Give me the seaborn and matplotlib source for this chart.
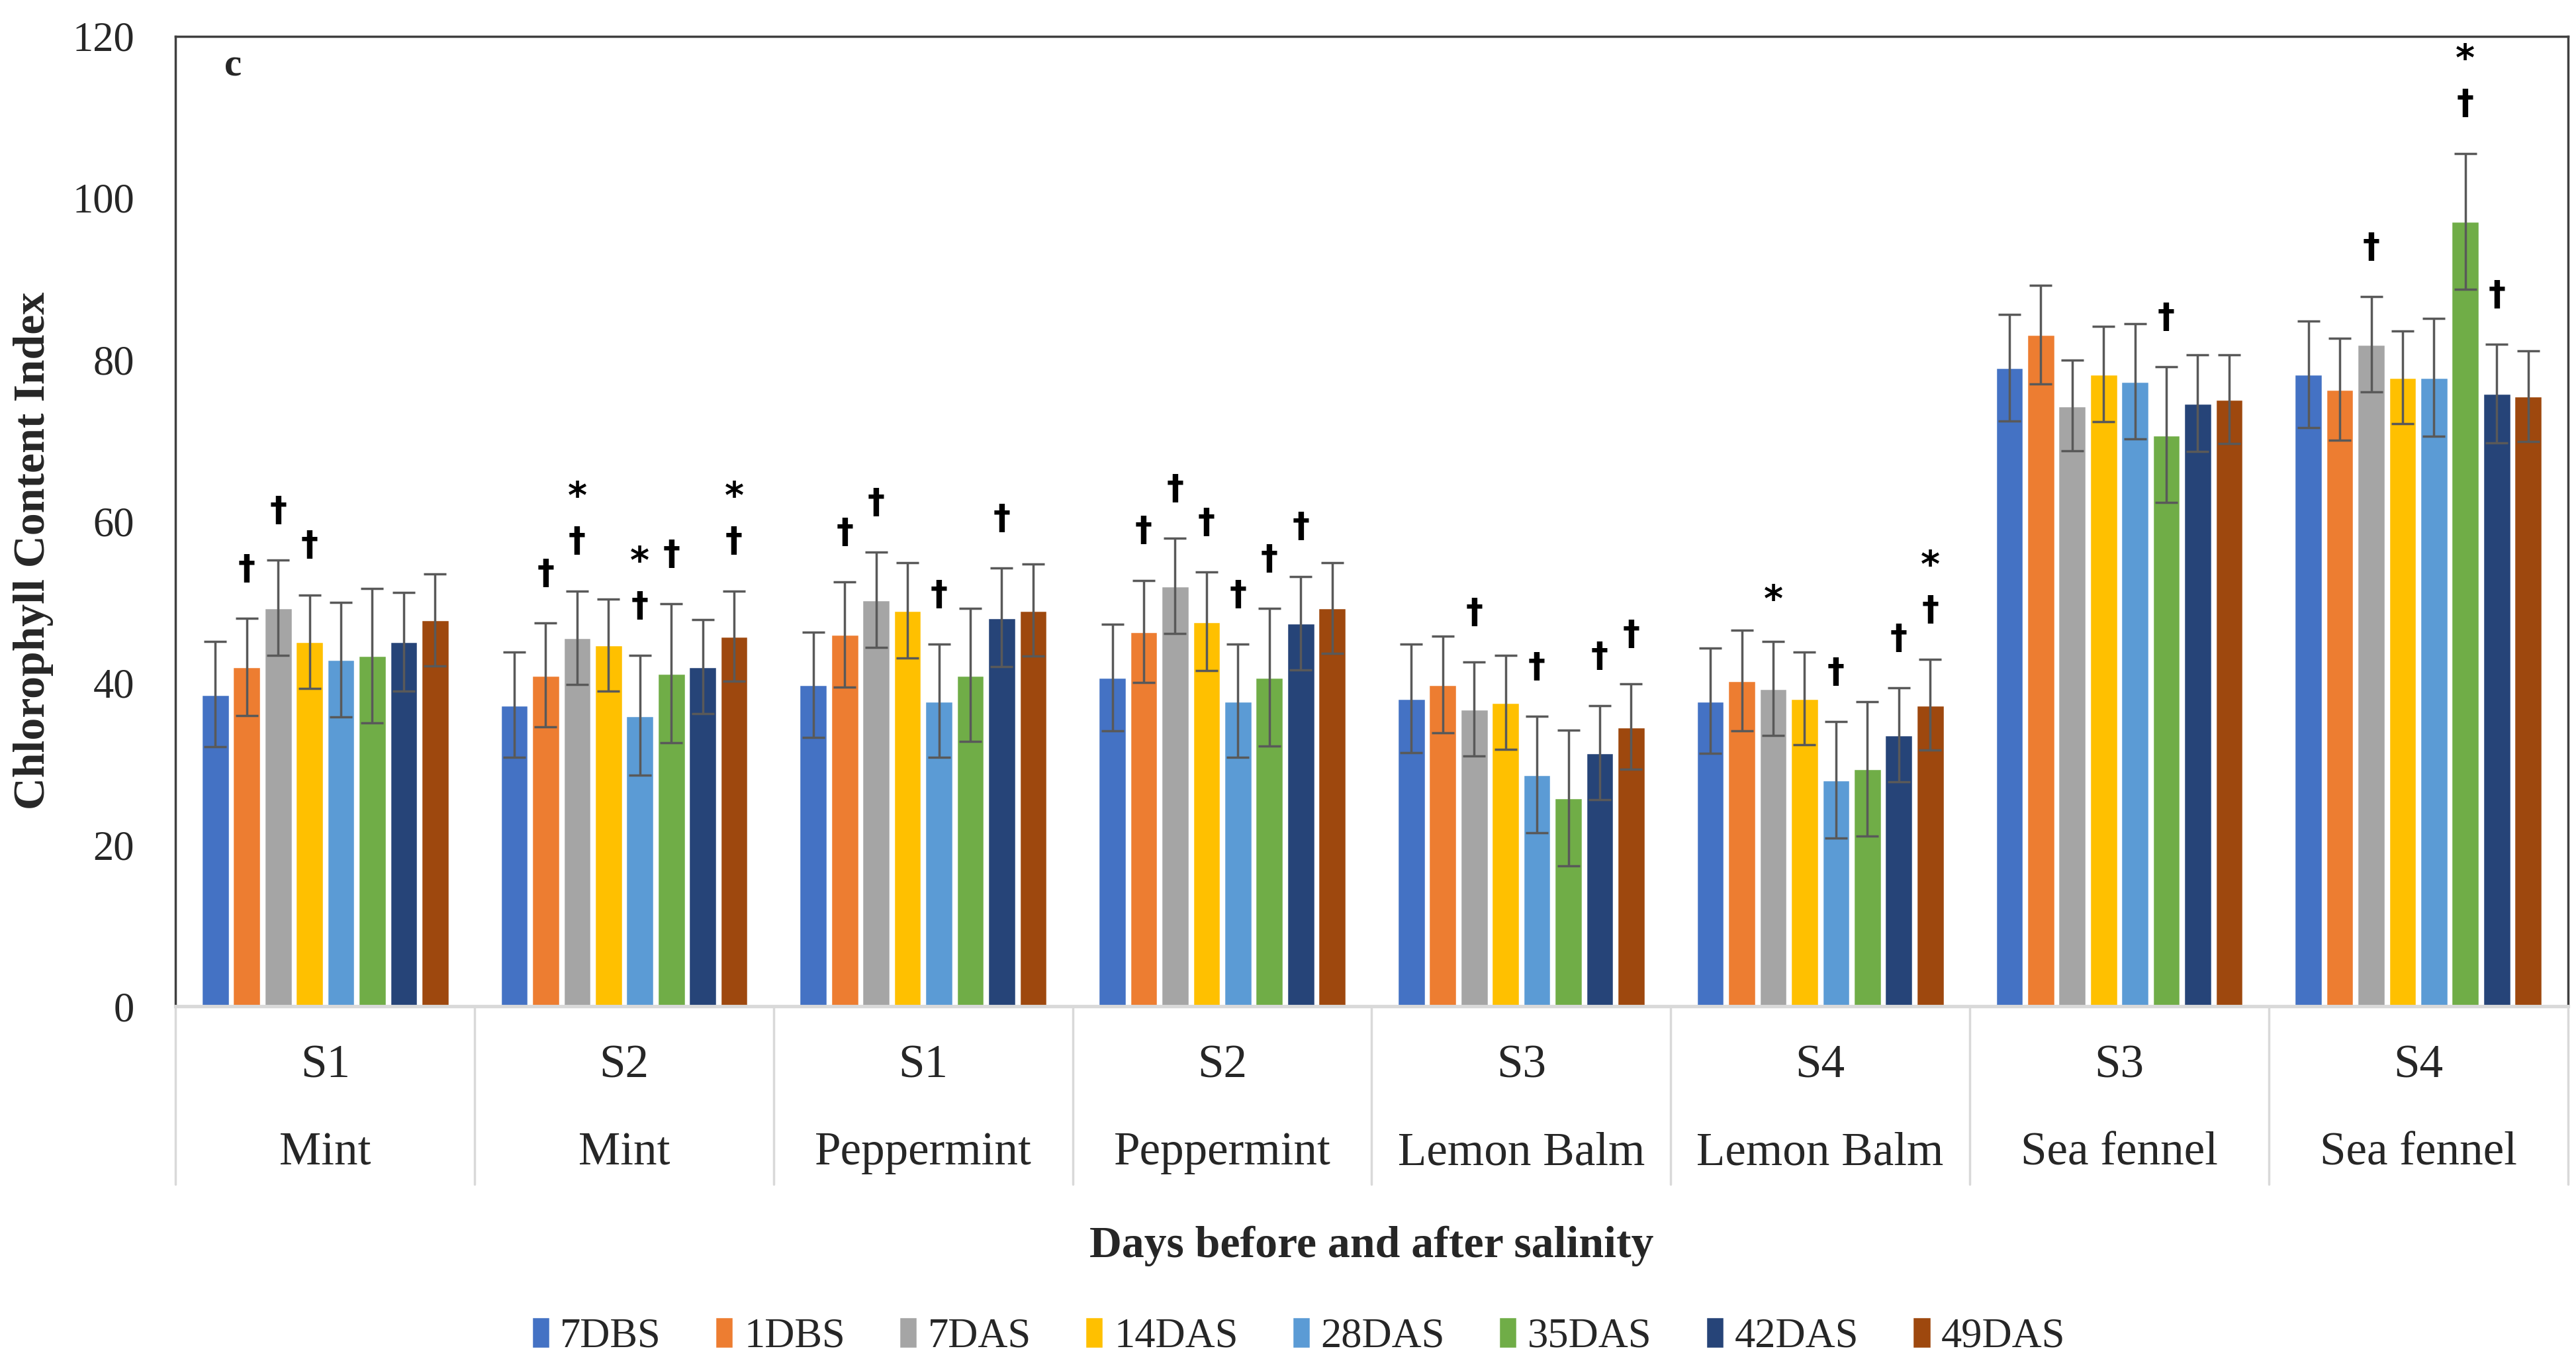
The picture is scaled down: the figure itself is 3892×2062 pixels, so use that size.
import pandas as pd
import matplotlib
matplotlib.use("Agg")
import matplotlib.pyplot as plt
from matplotlib.container import BarContainer
import seaborn as sns

# --- data ---
series = ["7DBS", "1DBS", "7DAS", "14DAS", "28DAS", "35DAS", "42DAS", "49DAS"]
colors = ["#4472C4", "#ED7D31", "#A5A5A5", "#FFC000", "#5B9BD5", "#70AD47", "#264478", "#9E480E"]

salinity = ["S1", "S2", "S1", "S2", "S3", "S4", "S3", "S4"]
species = ["Mint", "Mint", "Peppermint", "Peppermint", "Lemon Balm", "Lemon Balm", "Sea fennel", "Sea fennel"]

mean_mint_s1 = [38.6, 42.0, 49.3, 45.1, 42.9, 43.4, 45.1, 47.8]
mean_mint_s2 = [37.3, 41.0, 45.6, 44.7, 36.0, 41.2, 42.0, 45.8]
mean_pep_s1 = [39.8, 46.0, 50.3, 49.0, 37.8, 41.0, 48.1, 49.0]
mean_pep_s2 = [40.7, 46.4, 52.0, 47.6, 37.8, 40.7, 47.4, 49.3]
mean_lb_s3 = [38.1, 39.8, 36.8, 37.6, 28.7, 25.8, 31.4, 34.6]
mean_lb_s4 = [37.8, 40.3, 39.3, 38.1, 28.0, 29.4, 33.6, 37.3]
mean_sf_s3 = [79.0, 83.1, 74.3, 78.2, 77.3, 70.7, 74.6, 75.1]
mean_sf_s4 = [78.2, 76.3, 81.9, 77.8, 77.8, 97.1, 75.8, 75.5]

err_mint_s1 = [6.5, 6.0, 5.9, 5.8, 7.1, 8.3, 6.1, 5.7]
err_mint_s2 = [6.5, 6.4, 5.8, 5.7, 7.4, 8.6, 5.8, 5.6]
err_pep_s1 = [6.5, 6.5, 5.9, 5.9, 7.0, 8.2, 6.1, 5.7]
err_pep_s2 = [6.6, 6.3, 5.9, 6.1, 7.0, 8.5, 5.8, 5.6]
err_lb_s3 = [6.7, 6.0, 5.8, 5.8, 7.2, 8.4, 5.8, 5.3]
err_lb_s4 = [6.5, 6.2, 5.8, 5.7, 7.2, 8.3, 5.8, 5.6]
err_sf_s3 = [6.6, 6.1, 5.6, 5.9, 7.1, 8.4, 6.0, 5.5]
err_sf_s4 = [6.6, 6.3, 5.9, 5.7, 7.3, 8.4, 6.1, 5.6]

# significance marks: "d" = dagger, "s" = star, "sd" = star above dagger
mark_mint_s1 = ["", "d", "d", "d", "", "", "", ""]
mark_mint_s2 = ["", "d", "sd", "", "sd", "d", "", "sd"]
mark_pep_s1 = ["", "d", "d", "", "d", "", "d", ""]
mark_pep_s2 = ["", "d", "d", "d", "d", "d", "d", ""]
mark_lb_s3 = ["", "", "d", "", "d", "", "d", "d"]
mark_lb_s4 = ["", "", "s", "", "d", "", "d", "sd"]
mark_sf_s3 = ["", "", "", "", "", "d", "", ""]
mark_sf_s4 = ["", "", "d", "", "", "sd", "d", ""]

means = [mean_mint_s1, mean_mint_s2, mean_pep_s1, mean_pep_s2,
         mean_lb_s3, mean_lb_s4, mean_sf_s3, mean_sf_s4]
errs = [err_mint_s1, err_mint_s2, err_pep_s1, err_pep_s2,
        err_lb_s3, err_lb_s4, err_sf_s3, err_sf_s4]
marks = [mark_mint_s1, mark_mint_s2, mark_pep_s1, mark_pep_s2,
         mark_lb_s3, mark_lb_s4, mark_sf_s3, mark_sf_s4]

groups = [f"{sp} {s}" for sp, s in zip(species, salinity)]
rows = []
for g, m, e, k in zip(groups, means, errs, marks):
    for s, v, ee, kk in zip(series, m, e, k):
        rows.append({"group": g, "series": s, "value": v, "err": ee, "mark": kk})
df = pd.DataFrame(rows)

# --- plot ---
sns.set_theme(style="white")
plt.rcParams["font.family"] = ["Liberation Serif", "DejaVu Serif"]

fig = plt.figure(figsize=(15.568, 8.248), dpi=250)
ax = fig.add_axes([0.0682, 0.2627, 0.9286, 0.7108])

sns.barplot(data=df, x="group", y="value", hue="series", order=groups,
            hue_order=series, palette=colors, saturation=1, width=0.84,
            gap=0.1, errorbar=None, ax=ax)

# error bars and significance marks from the drawn bars
bar_conts = [c for c in ax.containers if isinstance(c, BarContainer)]
for i, cont in enumerate(bar_conts):
    sub = df[df["series"] == series[i]].set_index("group").loc[groups]
    xs = [b.get_x() + b.get_width() / 2 for b in cont]
    ax.errorbar(xs, sub["value"], yerr=sub["err"], fmt="none",
                ecolor="#595959", elinewidth=1.0, capsize=5, capthick=1.0)
    for x, v, e, k in zip(xs, sub["value"], sub["err"], sub["mark"]):
        top = v + e
        if "d" in k:
            ax.text(x, top + 6.0, "†", ha="center", va="center",
                    fontsize=15, fontweight="bold", color="black",
                    family=["DejaVu Sans"])
        if k == "sd":
            ax.text(x, top + 11.5, "*", ha="center", va="center",
                    fontsize=16, fontweight="bold", color="black",
                    family=["DejaVu Sans"])
        if k == "s":
            ax.text(x, top + 5.0, "*", ha="center", va="center",
                    fontsize=16, fontweight="bold", color="black",
                    family=["DejaVu Sans"])

ax.set_xlim(-0.5, len(groups) - 0.5)
ax.set_ylim(0, 120)
ax.set_yticks(range(0, 121, 20))
ax.tick_params(axis="y", length=0, pad=18, labelsize=18)
ax.set_xticks([])
ax.set_xlabel("")
ax.set_ylabel("Chlorophyll Content Index", fontsize=19.5, fontweight="bold")
ax.yaxis.set_label_coords(-0.051, 0.47)

for side in ["left", "top", "right"]:
    ax.spines[side].set_color("#404040")
    ax.spines[side].set_linewidth(1.0)
ax.spines["bottom"].set_color("#D9D9D9")
ax.spines["bottom"].set_linewidth(1.5)

# two-level category axis
trans = ax.get_xaxis_transform()
for j in range(len(groups) + 1):
    ax.plot([j - 0.5, j - 0.5], [0, -0.183], color="#D9D9D9", lw=1.0,
            transform=trans, clip_on=False)
for j, (s, sp) in enumerate(zip(salinity, species)):
    ax.text(j, -0.061, s, transform=trans, ha="center", va="center", fontsize=20.5)
    ax.text(j, -0.151, sp, transform=trans, ha="center", va="center", fontsize=20.5)

ax.text(0.5, -0.247, "Days before and after salinity", transform=ax.transAxes,
        ha="center", va="center", fontsize=19.5, fontweight="bold")
ax.text(0.024, 0.969, "c", transform=ax.transAxes, ha="center", va="center",
        fontsize=17, fontweight="bold")

handles, labels = ax.get_legend_handles_labels()
ax.get_legend().remove()
fig.legend(handles, labels, loc="center", bbox_to_anchor=(0.504, 0.021),
           ncol=8, frameon=False, fontsize=18, handlelength=0.45,
           handleheight=0.8, handletextpad=0.25, columnspacing=1.3)

fig.savefig("out.png", dpi=250)
